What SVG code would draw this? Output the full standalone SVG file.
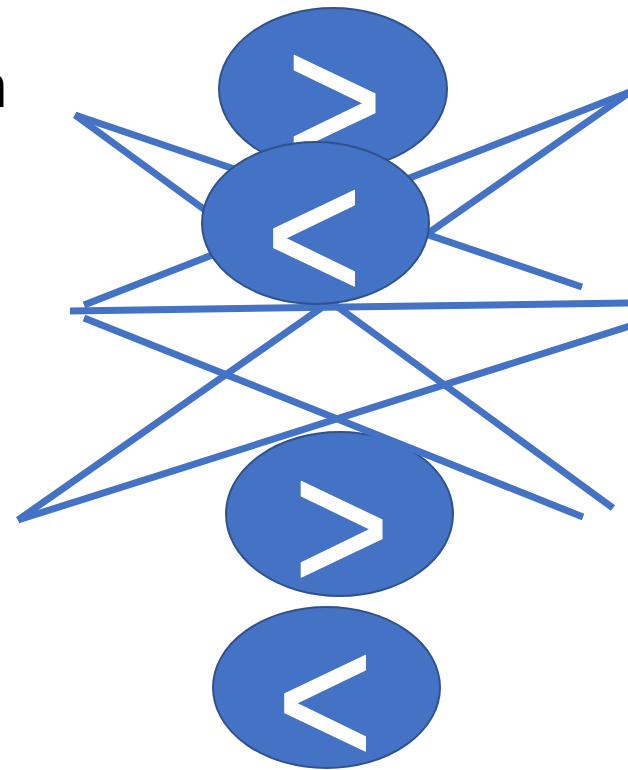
<svg xmlns="http://www.w3.org/2000/svg" width="628" height="770" viewBox="0 0 628 770">
<style>
.node ellipse{fill:#4472C4;stroke:#2F528F;stroke-width:2}
.node text{fill:#FFFFFF;stroke:#FFFFFF;stroke-width:1.5;stroke-linejoin:round;font-family:"Liberation Sans",Arial,sans-serif;font-size:188px;text-anchor:middle}
#connectors line{stroke:#4472C4;stroke-width:7;stroke-linecap:butt}
.label{fill:#000000;font-family:"Liberation Sans",Arial,sans-serif;font-size:62px;text-anchor:end}
</style>
<rect width="628" height="770" fill="#FFFFFF"/>
<text class="label" x="7.5" y="107">n</text>
<g id="node1" class="node">
<ellipse cx="333" cy="89" rx="114" ry="81"/>
<text transform="translate(334.5 165) scale(0.88 1)">&gt;</text>
</g>
<g id="node3" class="node">
<ellipse cx="339.5" cy="514" rx="113.5" ry="82"/>
<text transform="translate(341.5 591) scale(0.88 1)">&gt;</text>
</g>
<g id="node4" class="node">
<ellipse cx="326.5" cy="687.5" rx="113.5" ry="80.5"/>
<text transform="translate(325 765) scale(0.88 1)">&lt;</text>
</g>
<g id="connectors">
<line x1="75" y1="115" x2="582" y2="287"/>
<line x1="75" y1="115" x2="613" y2="508"/>
<line x1="630" y1="92" x2="84" y2="305"/>
<line x1="630" y1="92" x2="18" y2="520"/>
<line x1="70" y1="311" x2="630" y2="303"/>
<line x1="84" y1="318" x2="583" y2="517"/>
<line x1="18" y1="520" x2="630" y2="326"/>
</g>
<g id="node2" class="node">
<ellipse cx="315.5" cy="223" rx="113.5" ry="81"/>
<text transform="translate(314 300) scale(0.88 1)">&lt;</text>
</g>
</svg>
